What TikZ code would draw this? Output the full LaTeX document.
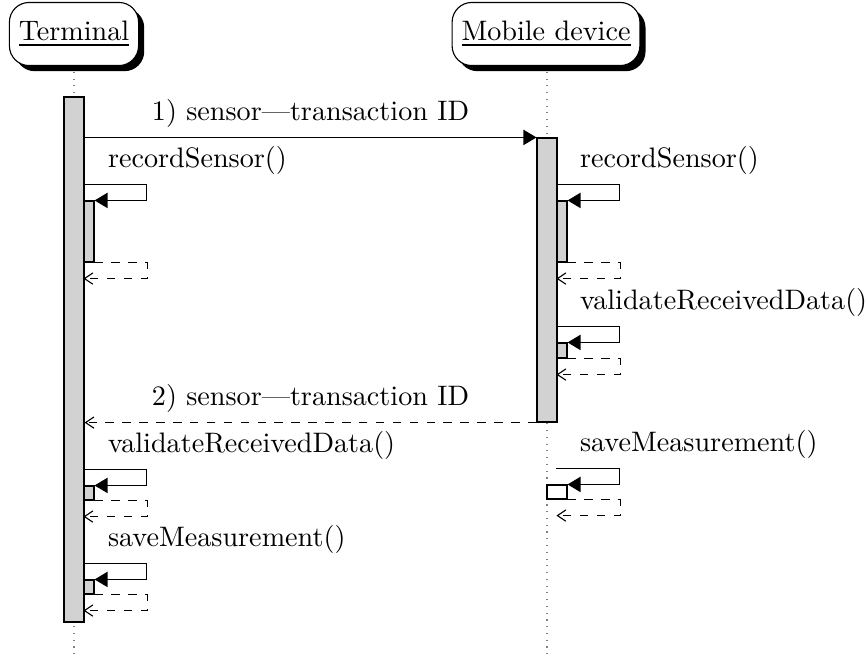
\documentclass[tikz,border=0pt]{standalone}
\usetikzlibrary{arrows.meta,calc,fit,shadows}

\tikzset{
  inst/.style={draw, fill=white, rounded corners=7pt, minimum height=22.4pt,
    drop shadow={shadow xshift=2pt, shadow yshift=-2pt, fill=black, opacity=1}},
  lifeline/.style={dotted, gray},
  bar/.style={draw, fill=gray!35, inner sep=0pt},
  msg/.style={-{Triangle[length=4.6pt,width=5.4pt]}},
  ret/.style={dashed, -{Straight Barb[length=3pt,width=4pt]}},
  lbl/.style={anchor=base west, inner sep=0pt}
}

\begin{document}
\begin{tikzpicture}[x=0.355pt,y=-0.355pt]
  \useasboundingbox (0,0) rectangle (865,659);

  % instances
  \node[inst] (term) at (74,34)  {\underline{Terminal}};
  \node[inst] (mob)  at (546,34) {\underline{Mobile device}};

  % lifelines
  \coordinate (tend) at (74,655);
  \coordinate (mend) at (547,659);
  \draw[lifeline] ([yshift=-2pt]term.south) -- (tend);
  \draw[lifeline] ([yshift=-2pt]mob.south -| mend) -- (mend);

  % activations
  \begin{scope}[every node/.style={bar}]
    \node[fit={(64,97) (84,622)}]   (tbar) {};
    \node[fit={(537,138) (557,422)}] (mbar) {};
    \node[fit={(84,201) (94,262)}]  (t1) {};
    \node[fit={(84,486) (94,500)}]  (t2) {};
    \node[fit={(84,580) (94,594)}]  (t3) {};
    \node[fit={(557,201) (567,262)}] (m1) {};
    \node[fit={(557,343) (567,358)}] (m2) {};
    \node[fit={(547,485) (567,499)}, fill=white] (m3) {};
  \end{scope}

  % messages
  \path (tbar.east |- mbar.north) edge[msg] node[above] {1) sensor\textemdash transaction ID} (mbar.north west);
  \path (mbar.south west) edge[ret] node[above] {2) sensor\textemdash transaction ID} (tbar.east |- mbar.south);

  % self calls
  \node[lbl] (l1) at ($(t1.north west)+(24,-33)$) {recordSensor()};
  \draw[msg] ($(t1.north west)+(0,-16)$) -- ++(63,0) |- (t1.north east);
  \draw[ret] (t1.south east) -- ++(53,0) |- ($(t1.south west)+(0,16)$);

  \node[lbl] (l2) at ($(t2.north west)+(24,-33)$) {validateReceivedData()};
  \draw[msg] ($(t2.north west)+(0,-16)$) -- ++(63,0) |- (t2.north east);
  \draw[ret] (t2.south east) -- ++(53,0) |- ($(t2.south west)+(0,16)$);

  \node[lbl] (l3) at ($(t3.north west)+(24,-33)$) {saveMeasurement()};
  \draw[msg] ($(t3.north west)+(0,-16)$) -- ++(63,0) |- (t3.north east);
  \draw[ret] (t3.south east) -- ++(53,0) |- ($(t3.south west)+(0,16)$);

  \node[lbl] (l4) at ($(m1.north west)+(23,-33)$) {recordSensor()};
  \draw[msg] ($(m1.north west)+(0,-16)$) -- ++(63,0) |- (m1.north east);
  \draw[ret] (m1.south east) -- ++(53,0) |- ($(m1.south west)+(0,16)$);

  \node[lbl] (l5) at ($(m2.north west)+(23,-33)$) {validateReceivedData()};
  \draw[msg] ($(m2.north west)+(0,-16)$) -- ++(63,0) |- (m2.north east);
  \draw[ret] (m2.south east) -- ++(53,0) |- ($(m2.south west)+(0,16)$);

  \node[lbl] (l6) at ($(m3.north west)+(33,-33)$) {saveMeasurement()};
  \draw[msg] ($(m3.north west)+(10,-16)$) -- ++(63,0) |- (m3.north east);
  \draw[ret] (m3.south east) -- ++(53,0) |- ($(m3.south west)+(10,16)$);

\end{tikzpicture}
\end{document}
